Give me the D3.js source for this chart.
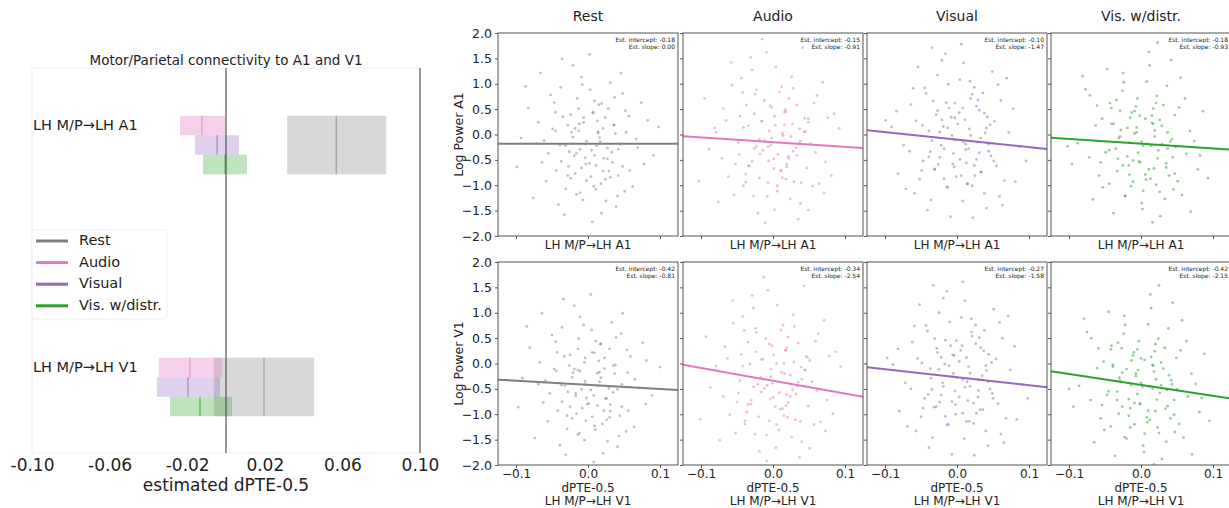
<!DOCTYPE html>
<html>
<head>
<meta charset="utf-8">
<script src="https://cdn.jsdelivr.net/npm/d3@7"></script>
<style>
  body { margin: 0; background: #fff; }
  text { font-family: "DejaVu Sans", sans-serif; fill: #222; }
</style>
</head>
<body>
<svg id="fig" width="1229" height="508"></svg>
<script>
// ---------- data ----------
var conditions = ["Rest", "Audio", "Visual", "Vis. w/distr."]
var colors = ["#7f7f7f", "#e377c2", "#9467bd", "#2ca02c"]
var connections = ["LH M/P\u2192LH A1", "LH M/P\u2192LH V1"]
var xTicksLeft = [-0.10, -0.06, -0.02, 0.02, 0.06, 0.10]

// estimated dPTE-0.5 interval per condition (Rest, Audio, Visual, Vis. w/distr.)
var a1Low  = [0.0315, -0.0237, -0.0160, -0.0119]
var a1Mean = [0.0568, -0.0124, -0.0046, -0.0005]
var a1High = [0.0826, -0.0005,  0.0067,  0.0108]
var v1Low  = [-0.0062, -0.0346, -0.0356, -0.0289]
var v1Mean = [0.0196, -0.0186, -0.0196, -0.0134]
var v1High = [0.0454, -0.0021, -0.0031,  0.0031]

// regression fits shown in the scatter panels
var a1Intercepts = [-0.18, -0.15, -0.10, -0.18]
var a1Slopes     = [0.00, -0.91, -1.47, -0.93]
var v1Intercepts = [-0.42, -0.34, -0.27, -0.42]
var v1Slopes     = [-0.81, -2.54, -1.58, -2.15]

var yTicksRight = [-2, -1.5, -1, -0.5, 0, 0.5, 1, 1.5, 2]
var xTicksRight = [-0.1, 0, 0.1]

// scatter points [dPTE-0.5, log power]
var restA1 = [[-.012,.21],[.034,-.55],[-.047,.63],[.008,-1.02],[.021,.12],[-.026,-.34],[.052,.47],[-.071,-.18],[.003,.88],[-.018,-.77],[.041,-1.21],[-.035,.35],[.067,-.09],[-.004,-.46],[.015,.59],[-.058,-.92],[.027,-.27],[-.009,1.13],[.083,.28],[-.041,-1.38],[.011,-.61],[-.023,.04],[.048,.81],[-.083,.52],[.019,-1.55],[-.002,-.13],[.036,.19],[-.064,-.55],[.007,.42],[-.031,-1.07],[.058,-.71],[-.015,.71],[.024,-.88],[-.049,.11],[.091,-.41],[-.007,-1.29],[.031,1.02],[-.027,-.63],[.045,-.19],[-.093,-.07],[.013,.27],[-.038,.93],[.062,-1.03],[-.011,-.29],[.028,.51],[-.055,-.37],[.004,-.83],[-.021,1.36],[.074,.63],[-.044,-.71],[.016,-.06],[-.006,.33],[.039,-1.42],[-.069,.24],[.022,-.47],[-.028,.18],[.053,.04],[-.016,-1.18],[.009,.66],[-.076,-1.25],[.033,-.35],[-.003,-.58],[.046,1.21],[-.039,-.21],[.018,-.97],[-.052,.78],[.078,-.58],[-.013,.07],[.029,-.72],[-.033,-1.58],[.057,.36],[-.087,.95],[.002,1.58],[-.019,-.42],[.042,-.81],[-.061,-.12],[.014,.05],[.098,.15],[-.045,.44],[.025,-1.31],[-.008,.98],[.069,-.26],[-.099,-.64],[.037,.73],[-.024,-.86],[.012,-.22],[-.036,1.49],[.006,-1.72],[.051,-1.12],[-.066,1.21],
  [.005,-.31],[-.018,.12],[.027,-.48],[-.009,-.66],[.014,.03],[-.031,-.22],[.036,.18],[-.002,-.91],[.021,-.72],[-.024,.39],[.009,-.41],[-.013,.51],[.042,-.29],[-.037,-.53],[.017,-.14],[-.006,.24],[.031,-.84],[-.021,-.05],[.002,-.57],[.024,.33],[-.045,.07],[.011,-1.08],[-.016,-.37],[.038,.02],[-.028,-.81],[.019,.61],[-.003,-.19],[.048,-.63],[-.011,-1.15],[.007,.44]]
var audioA1 = [[.021,-.43],[-.037,.58],[.006,-1.12],[.049,.24],[-.014,-.31],[-.062,-.83],[.028,.91],[-.005,.07],[.073,-.54],[-.029,1.27],[.011,-.71],[-.046,.36],[.038,-1.36],[-.019,-.09],[.057,.62],[-.081,.13],[.002,-1.48],[.032,-.26],[-.025,.79],[.016,.44],[-.054,-1.19],[.064,-.97],[-.009,1.62],[.043,.05],[-.033,-.62],[.085,.41],[-.071,-.47],[.013,-.85],[-.002,.53],[.026,1.14],[-.041,-1.01],[.052,-.18],[-.016,.26],[.007,-.39],[-.095,.71],[.035,-1.67],[-.023,-.23],[.069,1.03],[-.057,.97],[.019,-.59],[-.007,-.95],[.044,.32],[-.031,1.52],[.003,.18],[.081,-.81],[-.048,-.16],[.024,-1.27],[-.012,.67],[.059,-.35],[-.076,-1.33],[.009,.84],[-.038,-.78],[.037,.11],[-.021,-1.55],[.017,.49],[-.065,.28],[.047,-.66],[-.003,-.21],[.092,.12],[-.044,1.11],[.029,-.93],[-.026,.41],[.004,1.33],[.061,.77],[-.089,-.29],[.014,-.02],[-.052,-.58],[.033,.58],[-.011,-1.74],[.071,-1.15],[-.034,.17],[.022,-.47],[-.058,1.42],[.001,-.67],[.041,1.71],[-.018,-.38],[.055,-1.02],[-.069,.51],[.012,.94],[-.027,-1.21],[.038,-.13],[-.103,-.92],[.027,.21],[-.006,-.52],[.076,.33],[-.042,.83],[.018,-.88],[-.015,1.88],[.049,-1.49],[-.079,.04],
  [-.007,-.24],[.016,.19],[-.029,-.53],[.033,-.41],[.002,.36],[-.019,-.86],[.025,-.04],[-.041,.14],[.011,-.71],[-.004,.57],[.039,-.95],[-.026,-.27],[.018,.45],[-.012,-.12],[.045,.06],[-.034,-.62],[.006,-1.01],[.028,-.33],[-.015,.27],[-.047,-.39],[.022,.71],[.001,-.48],[-.023,.88],[.036,-.18],[-.008,-1.22],[.013,.02],[-.038,-.94],[.049,.31],[-.002,-.07],[.019,-.64]]
var visA1 = [[-.008,.34],[.027,-.49],[-.043,.81],[.015,-.97],[.046,.19],[-.022,-.21],[.061,.67],[-.066,-.33],[.004,1.08],[-.031,-.68],[.038,-1.16],[-.011,.52],[.072,.04],[-.052,-.88],[.019,.71],[-.005,-.37],[.033,-.07],[-.084,.46],[.009,1.41],[-.036,-1.29],[.055,-.62],[-.019,.16],[.024,.93],[-.061,.91],[.041,-1.45],[-.002,-.11],[.011,.29],[-.047,-.52],[.087,-.24],[-.027,1.17],[.006,-.81],[.049,1.24],[-.014,-1.03],[.031,.48],[-.071,-1.07],[.016,-.28],[-.039,.07],[.066,-.91],[-.003,.62],[.022,-1.64],[-.057,.27],[.036,.82],[-.024,-.45],[.078,.51],[-.091,.15],[.013,-.56],[-.016,1.59],[.044,-.33],[-.049,-.71],[.001,.21],[.059,-1.22],[-.033,.66],[.028,-.15],[-.074,-.21],[.008,-1.31],[-.012,.99],[.052,.26],[-.041,-1.49],[.018,1.05],[-.064,.59],[.034,-.74],[-.007,-.02],[.096,-.52],[-.029,.39],[.021,-1.01],[-.054,1.33],[.039,.03],[-.018,-.87],[.069,1.11],[-.037,-.34],[.003,.43],[-.082,-.77],[.047,-.42],[-.021,1.46],[.012,-.19],[-.045,.92],[.063,-1.39],[-.009,-1.62],[.029,.68],[-.099,.28],[.042,.35],[-.026,-.59],[.081,-.93],[-.013,.13],[.006,1.78],[-.059,-1.16],[.025,-.81],[-.035,1.71],[.057,.98],[-.004,-.64],
  [.009,-.15],[-.021,.29],[.031,-.36],[-.006,-.58],[.017,.11],[-.035,-.12],[.038,.42],[-.001,-.83],[.024,-.61],[-.027,.47],[.012,-.3],[-.015,.63],[.044,-.19],[-.039,-.44],[.019,-.02],[-.003,.33],[.033,-.74],[-.024,.05],[.004,-.49],[.027,.56],[-.048,.18],[.014,-.97],[-.018,-.28],[.041,.13],[-.031,-.69],[.021,.79],[-.005,-.09],[.051,-.52],[-.013,-1.04],[.008,.52]]
var visdA1 = [[.014,-.22],[-.029,.47],[.039,-.81],[-.006,.14],[-.053,-1.04],[.022,.76],[.063,-.38],[-.017,-.61],[.008,1.04],[-.041,.21],[.033,-1.27],[-.072,-.45],[.047,.38],[-.011,-.93],[.019,-.04],[-.026,.86],[.079,-.69],[.002,-1.47],[-.061,.57],[.029,.17],[-.035,-.28],[.055,1.12],[-.003,-.53],[-.088,-.17],[.017,.51],[-.022,-1.21],[.041,-.14],[-.047,1.29],[.068,.07],[.006,-.79],[-.015,.33],[.027,-1.61],[-.058,-.81],[.036,.96],[-.009,.02],[.051,-.92],[-.031,-.07],[.012,1.36],[-.077,.89],[.044,-.45],[-.019,-.43],[.003,-1.11],[.086,.46],[-.043,.62],[.024,-.31],[-.067,-1.28],[.015,.23],[-.005,.71],[.057,-1.19],[-.033,-.72],[.031,.58],[-.096,-.58],[.009,-.18],[-.024,1.03],[.074,-.13],[-.049,-.35],[.018,-.67],[-.013,.43],[.042,1.47],[-.063,.18],[.001,-1.35],[.035,-.57],[-.028,.09],[.061,.71],[-.081,1.15],[.021,-.99],[-.007,.55],[.048,-.24],[-.038,-1.55],[.011,1.63],[-.054,.31],[.093,-.86],[-.016,-.16],[.026,.29],[-.044,-.97],[.069,-1.52],[-.002,.37],[.037,.04],[-.071,.77],[.016,-1.73],[-.025,1.21],[.053,.53],[-.011,-.51],[.007,-.89],[-.034,.68],[.082,-.41],[-.056,-.55],[.023,1.81],[-.102,-.23],[.045,-1.08],
  [-.004,-.36],[.019,.08],[-.025,-.61],[.029,-.19],[.006,.31],[-.016,-.79],[.023,-.47],[-.038,.21],[.013,-.87],[-.009,.46],[.035,-.65],[-.029,-.04],[.015,.37],[-.014,-1.02],[.043,-.09],[-.032,-.48],[.003,-.22],[.026,-1.13],[-.019,.13],[-.044,-.31],[.021,.62],[-.001,-.55],[-.022,-1.21],[.037,-.28],[-.006,.04],[.011,-.69],[-.041,.52],[.047,-.77],[.001,-.14],[.017,.21]]
var restV1 = [[-.014,-.13],[.031,-.81],[-.045,.43],[.009,-1.23],[.023,-.1],[-.028,-.56],[.054,.27],[-.069,-.41],[.005,.66],[-.016,-.99],[.043,-1.43],[-.033,.14],[.065,-.31],[-.002,-.68],[.017,.38],[-.056,-1.14],[.029,-.49],[-.011,.92],[.081,.06],[-.039,-1.61],[.013,-.83],[-.021,-.18],[.046,.59],[-.081,.31],[.021,-1.77],[-.004,-.35],[.038,-.03],[-.062,-.77],[.009,.21],[-.029,-1.29],[.056,-.93],[-.013,.49],[.026,-1.11],[-.047,-.11],[.089,-.63],[-.005,-1.51],[.033,.81],[-.025,-.85],[.047,-.41],[-.091,-.29],[.015,.05],[-.036,.71],[.064,-1.25],[-.009,-.51],[.03,.29],[-.053,-.59],[.006,-1.05],[-.019,1.14],[.076,.41],[-.042,-.93],[.018,-.28],[-.004,.11],[.041,-1.64],[-.067,.02],[.024,-.69],[-.026,-.04],[.055,-.18],[-.014,-1.4],[.011,.44],[-.074,-1.47],[.035,-.57],[-.001,-.8],[.048,.99],[-.037,-.43],[.02,-1.19],[-.05,.56],[.08,-.8],[-.011,-.15],[.031,-.94],[-.031,-1.8],[.059,.14],[-.085,.73],[.004,1.36],[-.017,-.64],[.044,-1.03],[-.059,-.34],[.016,-.17],[.1,-.07],[-.043,.22],[.027,-1.53],[-.006,.76],[.071,-.48],[-.097,-.86],[.039,.51],[-.022,-1.08],[.014,-.44],[-.034,1.27],[.008,-1.94],[.053,-1.34],[-.064,.99],
  [.004,-.52],[-.019,-.11],[.026,-.69],[-.008,-.88],[.013,-.19],[-.032,-.44],[.035,-.04],[-.003,-1.13],[.022,-.93],[-.025,.17],[.008,-.63],[-.014,.29],[.041,-.51],[-.036,-.75],[.016,-.36],[-.005,.02],[.03,-1.06],[-.022,-.27],[.001,-.79],[.023,.11],[-.044,-.15],[.01,-1.3],[-.017,-.59],[.037,-.2],[-.029,-1.03],[.018,.39],[-.004,-.41],[.047,-.85],[-.012,-1.37],[.006,.22]]
var audioV1 = [[.019,-.61],[-.035,.42],[.008,-1.31],[.051,.06],[-.012,-.49],[-.06,-1.01],[.03,.73],[-.003,-.11],[.075,-.72],[-.027,1.09],[.013,-.89],[-.044,.18],[.04,-1.54],[-.017,-.27],[.059,.44],[-.079,-.05],[.004,-1.66],[.034,-.44],[-.023,.61],[.018,.26],[-.052,-1.37],[.066,-1.15],[-.007,1.44],[.045,-.13],[-.031,-.8],[.087,.23],[-.069,-.65],[.015,-1.03],[-.001,.35],[.028,.96],[-.039,-1.19],[.054,-.36],[-.014,.08],[.009,-.57],[-.093,.53],[.037,-1.85],[-.021,-.41],[.071,.85],[-.055,.79],[.021,-.77],[-.005,-1.13],[.046,.14],[-.029,1.34],[.005,0],[.083,-.99],[-.046,-.34],[.026,-1.45],[-.01,.49],[.061,-.53],[-.074,-1.51],[.011,.66],[-.036,-.96],[.039,-.07],[-.019,-1.73],[.019,.31],[-.063,.1],[.049,-.84],[-.001,-.39],[.094,-.06],[-.042,.93],[.031,-1.11],[-.024,.23],[.006,1.15],[.063,.59],[-.087,-.47],[.016,-.2],[-.05,-.76],[.035,.4],[-.009,-1.92],[.073,-1.33],[-.032,-.01],[.024,-.65],[-.056,1.24],[.003,-.85],[.043,1.53],[-.016,-.56],[.057,-1.2],[-.067,.33],[.014,.76],[-.025,-1.39],[.04,-.31],[-.101,-1.1],[.029,.03],[-.004,-.7],[.078,.15],[-.04,.65],[.02,-1.06],[-.013,1.7],[.051,-1.67],[-.077,-.14],
  [-.008,-.43],[.015,0],[-.03,-.72],[.032,-.6],[.001,.17],[-.02,-1.05],[.024,-.23],[-.042,-.05],[.01,-.9],[-.005,.38],[.038,-1.14],[-.027,-.46],[.017,.26],[-.013,-.31],[.044,-.13],[-.035,-.81],[.005,-1.2],[.027,-.52],[-.016,.08],[-.048,-.58],[.021,.52],[0,-.67],[-.024,.69],[.035,-.37],[-.009,-1.41],[.012,-.17],[-.039,-1.13],[.048,.12],[-.003,-.26],[.018,-.83]]
var visV1 = [[-.006,.17],[.029,-.66],[-.041,.64],[.017,-1.14],[.048,.02],[-.02,-.38],[.063,.5],[-.064,-.5],[.006,.91],[-.029,-.85],[.04,-1.33],[-.009,.35],[.074,-.13],[-.05,-1.05],[.021,.54],[-.003,-.54],[.035,-.24],[-.082,.29],[.011,1.24],[-.034,-1.46],[.057,-.79],[-.017,-.01],[.026,.76],[-.059,.74],[.043,-1.62],[0,-.28],[.013,.12],[-.045,-.69],[.089,-.41],[-.025,1],[.008,-.98],[.051,1.07],[-.012,-1.2],[.033,.31],[-.069,-1.24],[.018,-.45],[-.037,-.1],[.068,-1.08],[-.001,.45],[.024,-1.81],[-.055,.1],[.038,.65],[-.022,-.62],[.08,.34],[-.089,-.02],[.015,-.73],[-.014,1.42],[.046,-.5],[-.047,-.88],[.003,.04],[.061,-1.39],[-.031,.49],[.03,-.32],[-.072,-.38],[.01,-1.48],[-.01,.82],[.054,.09],[-.039,-1.66],[.02,.88],[-.062,.42],[.036,-.91],[-.005,-.19],[.098,-.69],[-.027,.22],[.023,-1.18],[-.052,1.16],[.041,-.14],[-.016,-1.04],[.071,.94],[-.035,-.51],[.005,.26],[-.08,-.94],[.049,-.59],[-.019,1.29],[.014,-.36],[-.043,.75],[.065,-1.56],[-.007,-1.79],[.031,.51],[-.097,.11],[.044,.18],[-.024,-.76],[.083,-1.1],[-.011,-.04],[.008,1.61],[-.057,-1.33],[.027,-.98],[-.033,1.54],[.059,.81],[-.002,-.81],
  [.008,-.32],[-.022,.12],[.03,-.53],[-.007,-.75],[.016,-.06],[-.036,-.29],[.037,.25],[-.002,-1],[.023,-.78],[-.028,.3],[.011,-.47],[-.016,.46],[.043,-.36],[-.04,-.61],[.018,-.19],[-.004,.16],[.032,-.91],[-.025,-.12],[.003,-.66],[.026,.39],[-.049,.01],[.013,-1.14],[-.019,-.45],[.04,-.04],[-.032,-.86],[.02,.62],[-.006,-.26],[.05,-.69],[-.014,-1.21],[.007,.35]]
var visdV1 = [[.016,-.49],[-.027,.3],[.041,-1.08],[-.004,-.13],[-.051,-1.31],[.024,.49],[.065,-.65],[-.015,-.88],[.01,.77],[-.039,-.06],[.035,-1.54],[-.07,-.72],[.049,.11],[-.009,-1.2],[.021,-.31],[-.024,.59],[.081,-.96],[.004,-1.74],[-.059,.3],[.031,-.1],[-.033,-.55],[.057,.85],[-.001,-.8],[-.086,-.44],[.019,.24],[-.02,-1.48],[.043,-.41],[-.045,1.02],[.07,-.2],[.008,-1.06],[-.013,.06],[.029,-1.88],[-.056,-1.08],[.038,.69],[-.007,-.25],[.053,-1.19],[-.029,-.34],[.014,1.09],[-.075,.62],[.046,-.72],[-.017,-.7],[.005,-1.38],[.088,.19],[-.041,.35],[.026,-.58],[-.065,-1.55],[.017,-.04],[-.003,.44],[.059,-1.46],[-.031,-.99],[.033,.31],[-.094,-.85],[.011,-.45],[-.022,.76],[.076,-.4],[-.047,-.62],[.02,-.94],[-.011,.16],[.044,1.2],[-.061,-.09],[.003,-1.62],[.037,-.84],[-.026,-.18],[.063,.44],[-.079,.88],[.023,-1.26],[-.005,.28],[.05,-.51],[-.036,-1.82],[.013,1.36],[-.052,.04],[.095,-1.13],[-.014,-.43],[.028,.02],[-.042,-1.24],[.071,-1.79],[0,.1],[.039,-.23],[-.069,.5],[.018,-1.99],[-.023,.94],[.055,.26],[-.009,-.78],[.009,-1.16],[-.032,.41],[.084,-.68],[-.054,-.82],[.025,1.54],[-.1,-.5],[.047,-1.35],
  [-.005,-.6],[.018,-.16],[-.026,-.85],[.028,-.43],[.005,.07],[-.017,-1.03],[.022,-.71],[-.039,-.03],[.012,-1.11],[-.01,.22],[.034,-.89],[-.03,-.28],[.014,.13],[-.015,-1.26],[.042,-.33],[-.033,-.72],[.002,-.46],[.025,-1.37],[-.02,-.11],[-.045,-.55],[.02,.38],[-.002,-.79],[-.023,-1.45],[.036,-.52],[-.007,-.2],[.01,-.93],[-.042,.28],[.046,-1.01],[0,-.38],[.016,-.03]]

var svg = d3.select("#fig")

// ---------- left: interval chart ----------
var plotL = {left: 32, right: 420, top: 68, bottom: 453}
var xL = d3.scaleLinear().domain([-0.1, 0.1]).range([plotL.left, plotL.right])
var yL = d3.scalePoint().domain(connections).range([145, 387])
var groupH = 58.5

var left = svg.append("g")

// faint frame
left.append("rect")
  .attr("x", plotL.left).attr("y", plotL.top)
  .attr("width", plotL.right - plotL.left).attr("height", plotL.bottom - plotL.top)
  .attr("fill", "none").attr("stroke", "#eee")

left.append("text")
  .attr("x", xL(0)).attr("y", 61)
  .attr("text-anchor", "middle").attr("dominant-baseline", "middle")
  .style("font-size", "13.5px")
  .text("Motor/Parietal connectivity to A1 and V1")

var groups = [
  {conn: connections[0], low: a1Low, mean: a1Mean, high: a1High},
  {conn: connections[1], low: v1Low, mean: v1Mean, high: v1High}
]

groups.forEach(g => {
  let top = yL(g.conn) - groupH / 2
  let rows = conditions.map((c, i) => ({
    i: i, low: g.low[i], mean: g.mean[i], high: g.high[i],
    y: i === 0 ? top : top + (i - 1) * groupH / 3,
    h: i === 0 ? groupH : groupH / 3
  }))

  let gg = left.append("g")
  gg.selectAll("rect").data(rows).enter().append("rect")
    .attr("x", d => xL(d.low))
    .attr("y", d => d.y)
    .attr("width", d => xL(d.high) - xL(d.low))
    .attr("height", d => d.h)
    .attr("fill", d => colors[d.i])
    .attr("fill-opacity", d => d.i === 1 ? 0.35 : 0.3)

  gg.selectAll("line").data(rows).enter().append("line")
    .attr("x1", d => xL(d.mean)).attr("x2", d => xL(d.mean))
    .attr("y1", d => d.y).attr("y2", d => d.y + d.h)
    .attr("stroke", d => colors[d.i])
    .attr("stroke-opacity", 0.8)
    .attr("stroke-width", 1)

  left.append("text")
    .attr("x", plotL.left + 1).attr("y", top + groupH / 6)
    .attr("dominant-baseline", "middle")
    .style("font-size", "14.5px")
    .text(g.conn)
})

// zero line and right edge
;[0, 0.1].forEach(v => {
  left.append("line")
    .attr("x1", xL(v)).attr("x2", xL(v))
    .attr("y1", plotL.top).attr("y2", plotL.bottom)
    .attr("stroke", "#555").attr("stroke-width", 1.2)
})

var xAxisL = d3.axisBottom(xL).tickValues(xTicksLeft).tickSize(0).tickPadding(6)
  .tickFormat(d => d.toFixed(2))
var axL = left.append("g")
  .attr("transform", `translate(0,${plotL.bottom})`)
  .call(xAxisL)
axL.select(".domain").remove()
axL.selectAll("text").style("font-size", "17px").attr("fill", "#222")
  .attr("font-family", "DejaVu Sans")

left.append("text")
  .attr("x", xL(0)).attr("y", 486)
  .attr("text-anchor", "middle").attr("dominant-baseline", "middle")
  .style("font-size", "17px")
  .text("estimated dPTE-0.5")

// legend
var legend = left.append("g")
legend.append("rect")
  .attr("x", 32).attr("y", 230).attr("width", 135).attr("height", 89)
  .attr("rx", 3)
  .attr("fill", "#fff").attr("fill-opacity", 0.8).attr("stroke", "#eee")
var legItems = legend.selectAll("g.item").data(conditions).enter().append("g")
  .attr("transform", (d, i) => `translate(0,${241 + i * 21.6})`)
legItems.append("line")
  .attr("x1", 36).attr("x2", 68)
  .attr("stroke", (d, i) => colors[i]).attr("stroke-width", 3)
legItems.append("text")
  .attr("x", 79).attr("dominant-baseline", "middle")
  .style("font-size", "14.5px")
  .text(d => d)

// ---------- right: scatter grid ----------
var colX = [498, 683, 867, 1051]
var rowY = [33, 262]
var panelW = 180, panelH = 203

var rowsR = [
  {label: "Log Power A1", xlab: connections[0], points: [restA1, audioA1, visA1, visdA1],
   intercepts: a1Intercepts, slopes: a1Slopes},
  {label: "Log Power V1", xlab: connections[1], points: [restV1, audioV1, visV1, visdV1],
   intercepts: v1Intercepts, slopes: v1Slopes}
]

var right = svg.append("g")
var fmt1 = d3.format(".1f")
var fmt2 = d3.format(".2f")

conditions.forEach((c, ci) => {
  right.append("text")
    .attr("x", colX[ci] + panelW / 2).attr("y", 17)
    .attr("text-anchor", "middle").attr("dominant-baseline", "middle")
    .style("font-size", "14px")
    .text(c)
})

rowsR.forEach((row, ri) => {
  let y0 = rowY[ri]
  conditions.forEach((c, ci) => {
    let x0 = colX[ci]
    let xs = d3.scaleLinear().domain([-0.125, 0.125]).range([x0, x0 + panelW])
    let ys = d3.scaleLinear().domain([-2, 2]).range([y0 + panelH, y0])
    let p = right.append("g")
    let clipId = "clip" + ri + ci
    p.append("clipPath").attr("id", clipId)
      .append("rect").attr("x", x0).attr("y", y0).attr("width", panelW).attr("height", panelH)

    let body = p.append("g").attr("clip-path", `url(#${clipId})`)
    body.selectAll("circle").data(row.points[ci]).enter().append("circle")
      .attr("cx", d => xs(d[0]))
      .attr("cy", d => ys(d[1]))
      .attr("r", 1.4)
      .attr("fill", colors[ci])
      .attr("fill-opacity", 0.5)

    let b = row.intercepts[ci], m = row.slopes[ci]
    let xd = xs.domain()
    body.append("line")
      .attr("x1", xs(xd[0])).attr("y1", ys(b + m * xd[0]))
      .attr("x2", xs(xd[1])).attr("y2", ys(b + m * xd[1]))
      .attr("stroke", colors[ci]).attr("stroke-width", 2)

    // axes
    let yAx = p.append("g").attr("transform", `translate(${x0},0)`)
      .call(d3.axisLeft(ys).tickValues(yTicksRight).tickSize(3)
        .tickFormat(ci === 0 ? fmt1 : ""))
    yAx.select(".domain").remove()
    yAx.selectAll("line").attr("stroke", "#555")
    yAx.selectAll("text").style("font-size", "12.5px").attr("fill", "#222")
      .attr("font-family", "DejaVu Sans")

    let xAx = p.append("g").attr("transform", `translate(0,${y0 + panelH})`)
      .call(d3.axisBottom(xs).tickValues(xTicksRight).tickSize(3).tickPadding(1)
        .tickFormat(ri === 1 ? fmt1 : ""))
    xAx.select(".domain").remove()
    xAx.selectAll("line").attr("stroke", "#555")
    xAx.selectAll("text").style("font-size", "12px").attr("fill", "#222")
      .attr("font-family", "DejaVu Sans")

    p.append("rect")
      .attr("x", x0).attr("y", y0).attr("width", panelW).attr("height", panelH)
      .attr("fill", "none").attr("stroke", "#555").attr("stroke-width", 1)

    // fit annotation
    let ann = p.append("text")
      .attr("text-anchor", "end")
      .style("font-size", "6px")
    ann.append("tspan").attr("x", x0 + panelW - 3).attr("y", y0 + 9)
      .text("Est. intercept: " + fmt2(b).replace("\u2212", "-"))
    ann.append("tspan").attr("x", x0 + panelW - 3).attr("y", y0 + 16)
      .text("Est. slope: " + fmt2(m).replace("\u2212", "-"))

    // x labels
    if (ri === 0) {
      p.append("text")
        .attr("x", x0 + panelW / 2).attr("y", 245)
        .attr("text-anchor", "middle").attr("dominant-baseline", "middle")
        .style("font-size", "12px")
        .text(row.xlab)
    } else {
      p.append("text")
        .attr("x", x0 + panelW / 2).attr("y", 488)
        .attr("text-anchor", "middle").attr("dominant-baseline", "middle")
        .style("font-size", "12px")
        .text("dPTE-0.5")
      p.append("text")
        .attr("x", x0 + panelW / 2).attr("y", 501)
        .attr("text-anchor", "middle").attr("dominant-baseline", "middle")
        .style("font-size", "12px")
        .text(row.xlab)
    }
  })

  right.append("text")
    .attr("transform", `translate(459,${y0 + panelH / 2}) rotate(-90)`)
    .attr("text-anchor", "middle").attr("dominant-baseline", "middle")
    .style("font-size", "12.5px")
    .text(row.label)
})
</script>
</body>
</html>
